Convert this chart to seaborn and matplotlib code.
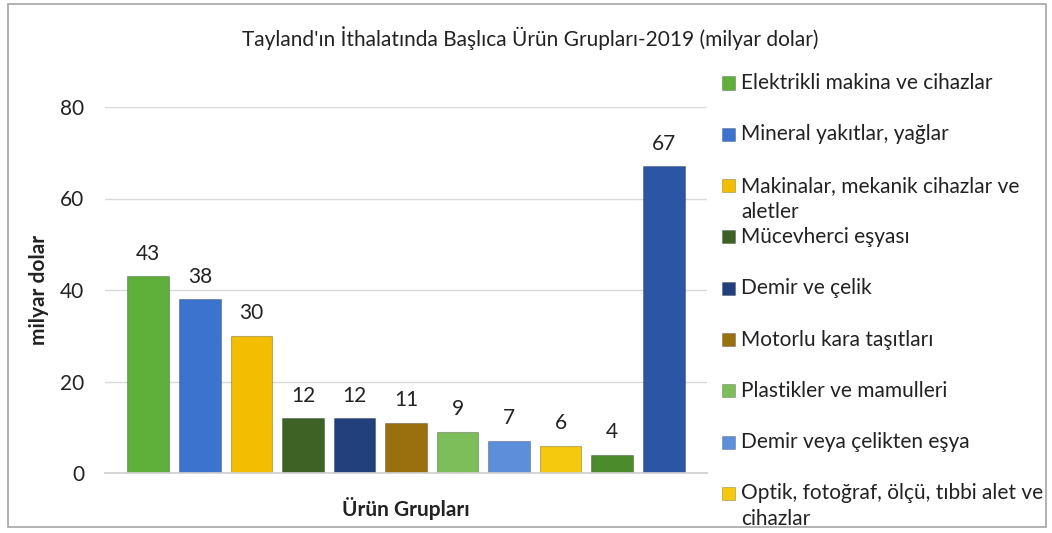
import matplotlib
matplotlib.use("Agg")
import matplotlib.pyplot as plt
import seaborn as sns
import pandas as pd
from matplotlib.patches import Rectangle

title = "Tayland'ın İthalatında Başlıca Ürün Grupları-2019 (milyar dolar)"
legend_labels = [
    "Elektrikli makina ve cihazlar",
    "Mineral yakıtlar, yağlar",
    "Makinalar, mekanik cihazlar ve\naletler",
    "Mücevherci eşyası",
    "Demir ve çelik",
    "Motorlu kara taşıtları",
    "Plastikler ve mamulleri",
    "Demir veya çelikten eşya",
    "Optik, fotoğraf, ölçü, tıbbi alet ve\ncihazlar",
]
categories = [l.replace("\n", " ") for l in legend_labels] + ["Grup 10", "Grup 11"]
values = [43, 38, 30, 12, 12, 11, 9, 7, 6, 4, 67]
colors = ["#5FAF3B", "#3B73CF", "#F3BE00", "#3C6325", "#22407C", "#9A6F0E",
          "#7DBE5B", "#5C8FD9", "#F5C90E", "#4C8B2B", "#2D55A6"]
y_ticks = [0, 20, 40, 60, 80]

sns.set_theme(style="white")
plt.rcParams["font.family"] = ["Lato", "DejaVu Sans"]

FS = 15
TXT = "#222222"
W, H = 1052, 533
fig = plt.figure(figsize=(W / 100, H / 100), dpi=100)
ax = fig.add_axes([105 / W, 1 - 473 / H, (707 - 105) / W, (473 - 107) / H])

df = pd.DataFrame({"grup": categories, "deger": values})
sns.barplot(data=df, x="grup", y="deger", hue="grup", palette=colors,
            order=categories, hue_order=categories, legend=False,
            width=0.81, saturation=1, ax=ax, edgecolor="#00000040", linewidth=0.8)

for c in ax.containers:
    ax.bar_label(c, padding=9, fontsize=FS, color=TXT)

ax.set_ylim(0, 80)
ax.set_xlim(-0.84, 10.84)
ax.set_yticks(y_ticks)
ax.set_yticklabels([str(t) for t in y_ticks], fontsize=FS, color=TXT)
ax.tick_params(axis="y", length=0, pad=15)
ax.set_xticks([])
ax.yaxis.grid(True, color="#D9D9D9", linewidth=1)
ax.set_axisbelow(True)
for s in ["top", "right", "left"]:
    ax.spines[s].set_visible(False)
ax.spines["bottom"].set_color("#D0D0D0")
ax.set_xlabel("Ürün Grupları", fontsize=FS, fontweight="bold", color=TXT, labelpad=17)
ax.set_ylabel("milyar dolar", fontsize=FS, fontweight="bold", color=TXT, labelpad=8)

fig.text(530 / W, 1 - 38 / H, title, ha="center", va="center", fontsize=FS, color=TXT)

# legend
leg_y0 = 83
leg_dy = 51.3
for i, lab in enumerate(legend_labels):
    yc = leg_y0 + i * leg_dy
    fig.patches.append(Rectangle((722 / W, 1 - (yc + 6.5) / H), 13 / W, 13 / H,
                                 transform=fig.transFigure, facecolor=colors[i],
                                 edgecolor="#00000040", linewidth=0.6))
    for j, line in enumerate(lab.split("\n")):
        fig.text(741 / W, 1 - (yc + j * 26) / H, line, ha="left", va="center",
                 fontsize=FS, color=TXT)

# outer frame
fig.patches.append(Rectangle((8 / W, 1 - 527 / H), (1046 - 8) / W, (527 - 4) / H,
                             transform=fig.transFigure, facecolor="none",
                             edgecolor="#A6A6A6", linewidth=1.2))

fig.savefig("out.png", dpi=100)
